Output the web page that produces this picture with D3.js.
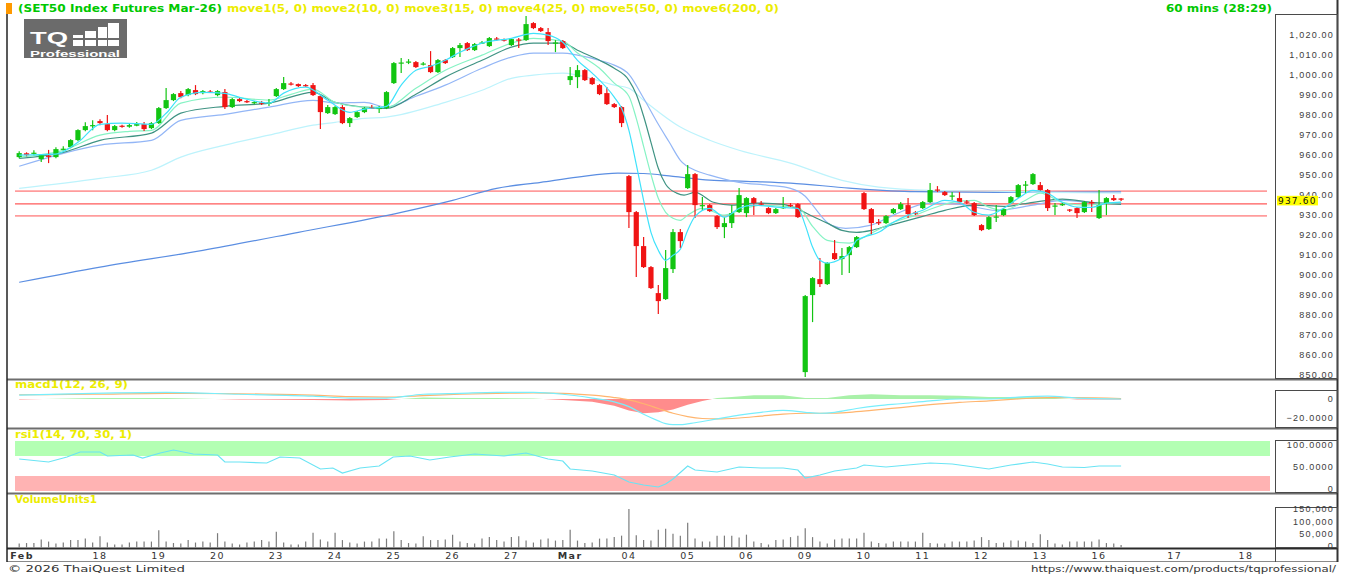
<!DOCTYPE html>
<html>
<head>
<meta charset="utf-8">
<script src="https://cdn.jsdelivr.net/npm/d3@7"></script>
<style>
    body { margin: 0; background: #fff; }
    svg { display: block; font-family: "DejaVu Sans", "Liberation Sans", sans-serif; }
    .hdr { font-weight: bold; font-size: 10px; }
    .axTxt { font-size: 9px; letter-spacing: 1.2px; fill: #3c3c3c; }
    .dateTxt { font-size: 9.5px; letter-spacing: 1.4px; fill: #333; }
    .foot { font-size: 9.5px; fill: #333; }
</style>
</head>
<body>
<svg id="chart" width="1350" height="575"></svg>
<script>
var TQ = TQ || {};

// ---- values ----
// hourly bars: [open, high, low, close]
var candles = [
    [958.6, 961.5, 958.0, 960.6], [960.5, 961.0, 959.0, 959.6], [960.3, 962.0, 959.5, 960.8], [957.6, 960.2, 956.1, 959.6],
    [959.3, 962.2, 955.6, 958.8], [958.6, 963.5, 958.0, 962.6], [962.6, 964.0, 962.0, 962.8], [963.6, 967.5, 963.0, 967.1],
    [967.1, 972.5, 966.5, 972.1], [972.1, 976.0, 971.5, 974.1], [974.5, 977.0, 972.0, 974.6],
    [976.6, 977.5, 974.5, 975.6], [975.1, 979.6, 971.5, 972.1], [972.1, 974.6, 971.5, 974.1], [974.3, 974.8, 973.3, 973.8],
    [973.8, 975.3, 973.3, 974.6], [974.3, 976.1, 974.0, 975.1], [975.1, 976.1, 971.6, 972.6], [973.1, 976.1, 972.6, 975.6],
    [975.6, 983.6, 975.1, 983.1], [983.1, 993.1, 982.6, 987.1], [987.1, 990.6, 986.6, 990.1], [990.6, 991.6, 988.0, 988.6],
    [989.6, 993.1, 989.0, 992.6], [992.1, 994.6, 989.6, 990.1], [990.6, 992.1, 990.0, 991.6], [991.4, 992.1, 990.6, 991.1],
    [989.6, 992.1, 989.0, 991.6], [991.1, 992.6, 982.6, 983.6], [983.6, 988.1, 983.1, 987.6], [987.6, 988.1, 986.1, 986.6],
    [986.6, 987.1, 985.6, 986.1], [985.6, 986.6, 985.1, 986.1], [985.9, 986.6, 984.6, 985.4], [985.4, 987.6, 984.1, 985.9],
    [989.1, 993.1, 988.6, 992.6], [992.6, 998.6, 992.1, 995.6], [995.4, 996.1, 994.4, 994.9], [995.1, 995.4, 993.6, 994.1],
    [994.6, 995.1, 993.6, 994.1], [994.6, 995.6, 989.1, 989.6], [989.1, 989.6, 972.6, 981.1], [980.6, 984.6, 980.1, 983.6],
    [980.1, 984.1, 979.6, 983.6], [983.6, 984.6, 975.1, 975.6], [975.6, 978.6, 973.6, 978.1], [978.6, 981.6, 978.1, 981.1],
    [981.1, 983.6, 980.6, 983.1], [983.4, 984.6, 982.6, 983.1], [982.6, 984.1, 980.6, 983.6], [983.1, 991.6, 982.6, 991.1],
    [995.6, 1006.1, 995.1, 1005.6], [1005.4, 1008.1, 1000.6, 1005.9], [1005.9, 1007.6, 1005.1, 1006.4], [1006.1, 1006.6, 1003.1, 1003.6],
    [1004.9, 1006.1, 1004.4, 1005.4], [1004.6, 1011.6, 1000.6, 1001.1], [1001.1, 1007.6, 1000.6, 1007.1], [1007.1, 1007.6, 1005.1, 1005.6],
    [1008.6, 1013.6, 1008.1, 1013.1], [1013.1, 1015.6, 1008.6, 1014.6], [1015.6, 1016.1, 1011.6, 1012.1], [1012.1, 1015.6, 1011.6, 1015.1],
    [1015.4, 1016.6, 1015.1, 1015.9], [1014.1, 1018.6, 1013.6, 1018.1], [1017.9, 1018.6, 1016.6, 1017.4], [1017.4, 1017.9, 1016.4, 1016.9],
    [1014.6, 1018.1, 1014.1, 1017.6], [1017.4, 1018.1, 1013.1, 1016.9], [1017.1, 1029.1, 1016.6, 1025.1], [1025.6, 1026.1, 1022.6, 1023.1],
    [1023.1, 1023.6, 1021.1, 1021.6], [1021.1, 1023.1, 1014.6, 1016.6], [1015.4, 1017.1, 1011.1, 1015.9], [1016.6, 1017.1, 1012.6, 1013.1],
    [997.1, 1003.6, 994.6, 999.1], [998.6, 1004.6, 993.1, 1002.1], [1002.1, 1002.6, 996.6, 997.1], [998.1, 998.6, 994.6, 995.1],
    [994.6, 995.1, 989.6, 990.1], [990.6, 993.6, 984.6, 985.1], [985.1, 985.6, 983.1, 983.6], [983.6, 984.1, 973.6, 975.6],
    [949.1, 949.6, 923.1, 931.1], [931.1, 931.6, 898.6, 914.1], [914.1, 918.6, 903.1, 903.6], [903.6, 904.1, 892.6, 893.1],
    [890.6, 894.6, 880.1, 886.6], [887.6, 912.1, 887.1, 903.1], [902.6, 922.6, 900.6, 921.1], [921.1, 922.6, 913.1, 916.6],
    [943.1, 954.6, 942.6, 950.1], [950.1, 950.6, 928.1, 934.6], [934.1, 938.6, 931.6, 934.6], [934.6, 935.1, 931.1, 931.6],
    [929.1, 929.6, 922.6, 923.6], [923.6, 928.6, 918.1, 925.6], [925.6, 934.6, 923.1, 930.6], [931.1, 943.1, 930.6, 939.6],
    [930.6, 938.6, 928.6, 938.1], [938.1, 938.6, 929.6, 935.6], [935.4, 936.6, 934.1, 935.1], [933.1, 933.6, 930.1, 930.6],
    [930.6, 933.1, 930.1, 932.6], [933.1, 938.6, 932.6, 933.6], [934.6, 935.6, 933.6, 934.1], [935.1, 935.6, 928.1, 928.6],
    [851.1, 889.6, 848.6, 889.1], [889.6, 898.6, 876.1, 898.1], [897.6, 908.1, 893.6, 895.1], [895.1, 906.1, 894.6, 905.6],
    [910.6, 917.1, 907.1, 907.6], [907.6, 913.1, 899.6, 909.1], [909.6, 914.1, 900.6, 913.6], [913.6, 919.1, 913.1, 918.6],
    [940.6, 941.1, 932.1, 932.6], [932.6, 933.1, 919.6, 925.6], [926.1, 927.6, 924.6, 925.6], [925.6, 929.6, 925.1, 929.1],
    [930.6, 933.1, 930.1, 932.6], [932.6, 936.1, 932.1, 935.1], [934.6, 938.1, 928.1, 930.1], [930.9, 931.6, 929.6, 930.4],
    [933.1, 936.6, 932.6, 936.1], [936.1, 945.6, 935.6, 942.1], [942.4, 944.1, 941.1, 941.9], [941.1, 941.6, 939.1, 939.6],
    [938.9, 941.1, 937.1, 939.4], [938.1, 941.1, 935.6, 936.1], [936.4, 937.1, 935.1, 935.9], [935.6, 936.1, 929.1, 929.6],
    [924.6, 925.1, 921.6, 922.1], [922.6, 929.1, 922.1, 928.6], [928.4, 934.6, 926.1, 928.9], [929.6, 933.1, 929.1, 932.6],
    [935.6, 939.1, 935.1, 938.6], [938.6, 945.1, 938.1, 944.6], [944.4, 946.6, 940.6, 944.9], [945.1, 950.6, 944.6, 950.1],
    [944.6, 946.1, 941.6, 942.1], [942.1, 942.6, 931.6, 933.1], [933.9, 935.6, 929.6, 934.4], [934.6, 935.6, 934.1, 935.1],
    [932.4, 932.6, 931.1, 931.9], [933.1, 933.6, 928.1, 930.6], [931.1, 936.6, 930.6, 936.1], [936.1, 937.1, 931.1, 935.6],
    [928.1, 942.1, 927.6, 934.6], [935.6, 938.6, 929.6, 938.1], [938.1, 939.6, 936.6, 937.1], [937.9, 938.1, 936.6, 937.6]
];

// volume per bar, thousands of contracts
var volumesK = [
    10, 12, 12, 26, 18, 10, 14, 24, 24, 30, 14,
    40, 14, 6, 6, 14, 18, 18, 18,
    64, 18, 12, 10, 24, 14, 18, 14,
    52, 18, 10, 6, 14, 18, 24, 18,
    58, 14, 6, 6, 18, 54, 26, 18,
    54, 24, 14, 10, 18, 18, 30, 30,
    60, 24, 12, 10, 40, 24, 24, 26,
    46, 18, 12, 10, 30, 36, 24, 18,
    36, 40, 22, 14, 26, 30, 22, 24,
    66, 22, 12, 14, 30, 30, 36, 42,
    150, 44, 24, 22, 66, 70, 50, 42,
    94, 30, 18, 18, 42, 42, 42, 34,
    46, 18, 12, 6, 24, 26, 36, 42,
    72, 36, 18, 10, 26, 30, 30, 30,
    54, 18, 12, 10, 18, 18, 18, 18,
    54, 12, 10, 10, 18, 18, 18, 22,
    36, 24, 12, 14, 22, 22, 18, 12,
    48, 24, 10, 6, 18, 18, 18, 18,
    26, 12, 10, 4
];

// moving averages, [bar index, price]
var ma5 = [[0, 959.6], [5, 960.1], [8, 966], [11, 975], [14, 975.6], [18, 975], [20, 980.5], [22, 988.5], [25, 991], [28, 990.5],
    [30, 988.5], [34, 985.6], [36, 990.6], [39, 993.6], [42, 987], [45, 981], [47, 982.6], [50, 984], [52, 994.6], [54, 1002],
    [56, 1004], [58, 1007], [60, 1011], [63, 1015.6], [67, 1018], [70, 1020.5], [72, 1019.6], [74, 1016], [76, 1007], [78, 1000.6],
    [81, 988.6], [82, 983], [83, 972], [84, 955], [85, 937], [86, 921], [87, 912], [88, 907], [89, 909.5], [90, 912.5], [91, 922],
    [92, 929], [94, 933], [96, 928.6], [98, 933], [100, 934.6], [103, 933.6], [106, 933], [107, 924.6], [108, 913.6], [109, 907],
    [110, 905.6], [112, 908], [113, 910.6], [114, 917], [115, 918.6], [117, 921], [119, 926], [121, 929.6], [123, 932], [126, 937],
    [128, 936], [130, 931], [132, 929.6], [134, 933], [136, 938], [138, 942], [140, 940.5], [142, 936], [144, 933.6], [146, 933.5],
    [148, 935.6], [150, 936.1]];
var ma10 = [[0, 958.6], [6, 962], [11, 969.6], [15, 971.5], [18, 972], [22, 985.6], [28, 988.6], [34, 987.1], [37, 990], [40, 992.6],
    [43, 986], [47, 983.6], [50, 983.6], [54, 993], [58, 1002], [63, 1009.6], [67, 1015.6], [70, 1018], [74, 1016.6], [76, 1010.6],
    [79, 1003], [81, 995.6], [83, 989], [84, 978], [85, 964], [86, 950], [87, 938], [88, 931], [89, 928], [90, 927], [91, 929.6],
    [93, 933], [96, 929.6], [98, 932], [101, 934.6], [104, 934], [106, 933.6], [108, 924], [110, 917], [113, 915.6], [116, 920.6],
    [119, 926], [122, 929.6], [124, 932.5], [127, 936], [130, 937], [132, 933.6], [134, 932], [137, 937], [139, 940.6], [142, 936],
    [145, 934.6], [148, 935.5], [150, 936]];
var ma15 = [[0, 958], [6, 961], [11, 967], [18, 970.6], [22, 980.6], [28, 984], [34, 985.6], [40, 991], [43, 986], [47, 983.6],
    [50, 983], [54, 990], [58, 998.6], [63, 1007], [67, 1013.6], [70, 1015.6], [74, 1015.6], [76, 1012], [79, 1007], [81, 1003],
    [83, 997], [84, 990], [85, 979], [86, 966], [87, 953], [88, 945], [89.5, 940.6], [90.5, 939.6], [92, 941], [94.5, 936],
    [97, 934.6], [100.5, 935.6], [104, 935], [106, 932.6], [108, 929], [110, 925.6], [112, 922], [114, 921], [116, 922], [118, 924],
    [120, 926], [123, 929], [126, 932], [130, 934.6], [134, 934], [138, 936], [142, 937.6], [146, 936], [150, 935]];
var ma25 = [[0, 954], [11, 964.6], [18, 967], [22, 977], [28, 980], [34, 983.6], [40, 987], [43, 985.6], [47, 986], [50, 983.6],
    [54, 989], [58, 994.6], [63, 1003], [67, 1008.6], [70, 1010.6], [74, 1010.6], [76, 1009.6], [79, 1007], [81, 1004.6], [83, 1000],
    [85, 988], [87, 975], [88.5, 966], [90, 957], [92, 952], [94, 949.6], [98, 946], [102, 944.5], [105, 943], [107, 939],
    [108, 934.6], [110.5, 924.6], [112.5, 923], [116, 924.6], [119, 929.6], [124, 935.6], [128, 935], [133, 932], [138, 934.6],
    [142, 937], [147, 935.6], [150, 935.6]];
var ma50 = [[0, 943], [11, 948], [18, 952], [22, 958.6], [28, 964.6], [34, 969.6], [40, 974.6], [43, 976], [47, 978], [50, 978.6],
    [58, 986], [63, 992], [67, 998], [70, 999.6], [74, 1000.6], [76, 999.6], [81, 994.6], [83, 993], [85, 987], [90, 973.6],
    [94, 967], [98, 962], [105, 955.6], [112, 947], [117, 943.6], [124, 942], [133, 941.6], [140, 941], [150, 940.6]];
var ma200 = [[0, 896], [11, 903.6], [25, 912], [38, 921], [52, 931], [59, 937], [65, 943], [71, 946], [76, 948.6], [81.5, 950.6],
    [85, 950.4], [89, 949], [94, 947.1], [99, 946.5], [105, 945.6], [113, 943.1], [122, 941.3], [133, 941], [150, 941.2]];

// MACD(12, 26, 9), [bar index, value]
var macdLine = [[0, 4], [10, 6], [20, 7], [30, 5], [40, 3], [45, 1], [50, 1], [55, 5], [60, 6], [65, 7], [70, 7], [74, 5], [78, 1],
    [81, -3], [83, -8], [85, -16], [87, -23], [88, -26], [89, -27], [90, -27], [92, -25], [95, -21], [98, -17], [101, -14],
    [104, -12], [107, -14], [109, -15], [111, -14], [114, -10], [117, -7], [120, -5], [124, -2], [128, 0], [132, 0], [136, 2],
    [140, 3], [144, 1], [150, 0]];
var macdSignal = [[0, 4.5], [10, 5], [20, 6], [30, 5.5], [40, 4], [45, 2.5], [50, 2], [55, 3.5], [60, 5], [65, 6], [70, 6.5],
    [74, 6], [78, 4], [81, 1.5], [83, -1], [85, -5], [87, -10], [89, -15], [91, -18.5], [93, -20.5], [95, -21], [98, -20],
    [101, -18], [104, -16], [107, -15], [110, -15], [113, -14], [116, -12], [120, -9], [124, -6], [128, -3.5], [132, -2],
    [136, 0], [140, 1.5], [144, 1.5], [150, 0.5]];
var macdHist = [[0, -0.5], [10, 1], [20, 1], [30, -0.5], [40, -1], [45, -1.5], [50, -1], [55, 1.5], [60, 1], [65, 1], [70, 0.5],
    [74, -1], [78, -3], [81, -7], [83, -12], [85, -15], [87, -14], [89, -11], [91, -6], [93, -2], [95, 1], [97, 2], [100, 4],
    [104, 4], [107, 1], [110, 1], [113, 4], [116, 5], [120, 4], [124, 4], [128, 3.5], [132, 2], [136, 2], [140, 1.5],
    [144, -0.5], [150, -0.5]];

// RSI(14), [bar index, value]
var rsiLine = [[0, 64], [4, 58], [6.5, 68], [8.3, 78], [11, 78], [12, 70], [15.5, 72], [16.8, 66], [19.2, 76], [21, 82],
    [23.7, 74], [27, 72], [28, 58], [30, 58], [33.7, 56], [35.5, 68], [38.2, 66], [41, 44], [42.7, 46], [44, 36], [46.4, 46],
    [49, 50], [50.9, 68], [53.2, 70], [55.9, 62], [58.6, 68], [62, 74], [66, 70], [69, 76], [72, 64], [74, 60], [75, 44],
    [78, 40], [81, 32], [83, 18], [85, 12], [87, 8], [88, 14], [89, 24], [91, 50], [92, 42], [95, 38], [98, 48], [101, 46],
    [104, 46], [106, 42], [107, 26], [109, 32], [111, 40], [114, 46], [115, 52], [118, 48], [121, 52], [124, 56], [127, 54],
    [130, 48], [132, 44], [135, 52], [138, 58], [140, 54], [142, 48], [145, 47], [147, 50], [150, 50]];

var priceTicks = [850, 860, 870, 880, 890, 900, 910, 920, 930, 940, 950, 960, 970, 980, 990, 1000, 1010, 1020];
var refLevels = [941.6, 935.2, 929.2];
var lastPrice = 937.60;
var dateIdx = [0.4, 11, 19, 27, 35, 43, 51, 59, 67, 75, 83, 91, 99, 107, 115, 123, 131, 139, 147, 157.3, 167];
var dateText = ['Feb', '18', '19', '20', '23', '24', '25', '26', '27', 'Mar', '04', '05', '06', '09', '10', '11', '12', '13', '16', '17', '18'];

TQ.colors = {
    up: '#12c512', down: '#f01414',
    ma5: '#3fe2fb', ma10: '#86f3c4', ma15: '#3f9383', ma25: '#93b6f6', ma50: '#bdf3fc', ma200: '#5b8ee2',
    green: '#00c800', yellow: '#ecec00'
};

TQ.chart = function ( svg ) {
    var self = this,
        _svg = svg,
        _x = d3.scaleLinear().domain( [0, 150] ).range( [19.2, 1121.1] ),
        _yPrice = d3.scaleLinear().domain( [850, 1020] ).range( [374.3, 34.3] ),
        _yMacd = d3.scaleLinear().domain( [-20, 0] ).range( [418, 399] ),
        _yRsi = d3.scaleLinear().domain( [0, 100] ).range( [491, 441] ),
        _yVol = d3.scaleLinear().domain( [0, 150] ).range( [546, 509] ),
        _addClip = function ( id, y, h ) {
            _svg.append( 'clipPath' ).attr( 'id', id )
                .append( 'rect' ).attr( 'x', 8 ).attr( 'y', y ).attr( 'width', 1266 ).attr( 'height', h );
        },
        _hline = function ( y, x1, x2, col, w ) {
            _svg.append( 'line' ).attr( 'x1', x1 ).attr( 'x2', x2 ).attr( 'y1', y ).attr( 'y2', y )
                .attr( 'stroke', col ).attr( 'stroke-width', w );
        },
        _vline = function ( x, y1, y2, col, w ) {
            _svg.append( 'line' ).attr( 'x1', x ).attr( 'x2', x ).attr( 'y1', y1 ).attr( 'y2', y2 )
                .attr( 'stroke', col ).attr( 'stroke-width', w );
        },
        _label = function ( txt, xPos, yPos, col, len ) {
            var t = _svg.append( 'text' ).attr( 'class', 'hdr' ).attr( 'x', xPos ).attr( 'y', yPos )
                .attr( 'fill', col ).text( txt );
            if ( len ) {
                t.attr( 'textLength', len ).attr( 'lengthAdjust', 'spacingAndGlyphs' );
            }
            return t;
        },
        _axisBox = function ( y1, y2 ) {
            _svg.append( 'rect' ).attr( 'x', 1275.5 ).attr( 'y', y1 ).attr( 'width', 62 ).attr( 'height', y2 - y1 )
                .attr( 'fill', 'none' ).attr( 'stroke', '#4a4a4a' ).attr( 'stroke-width', 1 );
        };

    this.drawFrame = function () {
        _addClip( 'clipMain', 15, 363 );
        _addClip( 'clipMacd', 381, 46 );
        _addClip( 'clipRsi', 430, 62 );
        _addClip( 'clipVol', 495, 53 );

        // header
        _svg.append( 'rect' ).attr( 'x', 6 ).attr( 'y', 3 ).attr( 'width', 6 ).attr( 'height', 11 ).attr( 'fill', '#ff9900' );
        _label( '(SET50 Index Futures Mar-26)', 18, 12, TQ.colors.green, 204 );
        _label( 'move1(5, 0) move2(10, 0) move3(15, 0) move4(25, 0) move5(50, 0) move6(200, 0)', 227, 12, TQ.colors.yellow, 552 );
        _label( '60 mins (28:29)', 1166, 12, TQ.colors.green, 106 );
        _label( 'macd1(12, 26, 9)', 15, 388, TQ.colors.yellow, 113 );
        _label( 'rsi1(14, 70, 30, 1)', 15, 438, TQ.colors.yellow, 117 );
        _label( 'VolumeUnits1', 15, 503, TQ.colors.yellow, 82 );

        // panel separators and borders
        _hline( 379.5, 7, 1338, '#6e6e6e', 2 );
        _hline( 428.5, 7, 1338, '#6e6e6e', 2 );
        _hline( 493.5, 7, 1338, '#6e6e6e', 2 );
        _hline( 548.5, 7, 1338, '#2a2a2a', 2 );
        _hline( 561.5, 7, 1338, '#8a8a8a', 1 );
        _vline( 7, 14, 562, '#222', 1.5 );
        _vline( 1337.5, 0, 562, '#333', 2 );
        _axisBox( 14.5, 378.5 );
        _axisBox( 390.5, 427.5 );
        _axisBox( 440.5, 492.5 );
        _axisBox( 507.5, 547.5 );
        _vline( 1275.5, 549, 562, '#4a4a4a', 1 );

        // logo
        var logo = _svg.append( 'g' ).attr( 'id', 'TQ_Logo' );
        logo.append( 'rect' ).attr( 'x', 24 ).attr( 'y', 19 ).attr( 'width', 103 ).attr( 'height', 39 ).attr( 'fill', '#6b6b6b' );
        logo.append( 'text' ).attr( 'x', 30 ).attr( 'y', 44 ).attr( 'fill', '#fff' ).attr( 'font-weight', 'bold' )
            .attr( 'font-size', 17 ).attr( 'textLength', 38 ).attr( 'lengthAdjust', 'spacingAndGlyphs' )
            .attr( 'font-family', 'Liberation Sans, Arial, sans-serif' ).text( 'TQ' );
        [[73, 35, 10], [85, 31, 11], [98, 27, 9], [108, 23, 11]].forEach( function ( b ) {
            logo.append( 'rect' ).attr( 'x', b[0] ).attr( 'y', b[1] ).attr( 'width', b[2] ).attr( 'height', 46 - b[1] ).attr( 'fill', '#fff' );
        } );
        logo.append( 'rect' ).attr( 'x', 72 ).attr( 'y', 38 ).attr( 'width', 49 ).attr( 'height', 2 ).attr( 'fill', '#6b6b6b' );
        logo.append( 'text' ).attr( 'x', 30 ).attr( 'y', 56.5 ).attr( 'fill', '#fff' ).attr( 'font-weight', 'bold' )
            .attr( 'font-size', 9 ).attr( 'textLength', 90 ).attr( 'lengthAdjust', 'spacingAndGlyphs' )
            .attr( 'font-family', 'Liberation Sans, Arial, sans-serif' ).text( 'Professional' );

        // footer
        _svg.append( 'text' ).attr( 'class', 'foot' ).attr( 'x', 8 ).attr( 'y', 572 )
            .attr( 'textLength', 177 ).attr( 'lengthAdjust', 'spacingAndGlyphs' ).text( '\u00a9 2026 ThaiQuest Limited' );
        _svg.append( 'text' ).attr( 'class', 'foot' ).attr( 'x', 1336 ).attr( 'y', 572 ).attr( 'text-anchor', 'end' )
            .attr( 'textLength', 305 ).attr( 'lengthAdjust', 'spacingAndGlyphs' ).text( 'https://www.thaiquest.com/products/tqprofessional/' );
    };

    this.drawPricePanel = function () {
        var holder = _svg.append( 'g' ).attr( 'id', 'PricePanel' ).attr( 'clip-path', 'url(#clipMain)' ),
            maLine = d3.line().x( d => _x( d[0] ) ).y( d => _yPrice( d[1] ) ).curve( d3.curveMonotoneX );

        // support / resistance lines
        holder.selectAll( 'line.ref' ).data( refLevels ).join( 'line' ).attr( 'class', 'ref' )
            .attr( 'x1', 15 ).attr( 'x2', 1267 )
            .attr( 'y1', d => _yPrice( d ) ).attr( 'y2', d => _yPrice( d ) )
            .attr( 'stroke', ( d, i ) => i === 1 ? '#ff5a5a' : '#ff9c9c' )
            .attr( 'stroke-width', ( d, i ) => i === 1 ? 1.2 : 1.6 );

        [['ma200', ma200], ['ma50', ma50], ['ma25', ma25], ['ma15', ma15], ['ma10', ma10]].forEach( function ( m ) {
            holder.append( 'path' ).attr( 'd', maLine( m[1] ) ).attr( 'fill', 'none' )
                .attr( 'stroke', TQ.colors[m[0]] ).attr( 'stroke-width', 1.2 );
        } );

        // candles
        holder.selectAll( 'g.cdl' ).data( candles ).join( 'g' ).attr( 'class', 'cdl' )
            .each( function ( d, i ) {
                var col = d[3] >= d[0] ? TQ.colors.up : TQ.colors.down,
                    cx = _x( i ),
                    top = _yPrice( Math.max( d[0], d[3] ) ),
                    bot = _yPrice( Math.min( d[0], d[3] ) ),
                    g = d3.select( this );
                g.append( 'line' ).attr( 'x1', cx ).attr( 'x2', cx )
                    .attr( 'y1', _yPrice( d[1] ) ).attr( 'y2', _yPrice( d[2] ) )
                    .attr( 'stroke', col ).attr( 'stroke-width', 1.2 );
                g.append( 'rect' ).attr( 'x', cx - 2.6 ).attr( 'y', top ).attr( 'width', 5.2 )
                    .attr( 'height', Math.max( 1.2, bot - top ) ).attr( 'fill', col );
            } );

        holder.append( 'path' ).attr( 'd', maLine( ma5 ) ).attr( 'fill', 'none' )
            .attr( 'stroke', TQ.colors.ma5 ).attr( 'stroke-width', 1.2 );

        // price axis
        var ax = _svg.append( 'g' ).attr( 'transform', 'translate(1334,0)' )
            .call( d3.axisLeft( _yPrice ).tickValues( priceTicks ).tickSize( 0 ).tickPadding( 0 )
                .tickFormat( d3.format( ',.2f' ) ) );
        ax.select( '.domain' ).remove();
        ax.selectAll( 'text' ).attr( 'class', 'axTxt' ).attr( 'font-family', null ).attr( 'font-size', null );

        // last price marker
        var ly = _yPrice( lastPrice ) + 1.5;
        _svg.append( 'rect' ).attr( 'x', 1277 ).attr( 'y', ly - 4.8 ).attr( 'width', 41 ).attr( 'height', 9.6 ).attr( 'fill', '#ffff00' );
        _svg.append( 'text' ).attr( 'class', 'axTxt' ).attr( 'x', 1278 ).attr( 'y', ly ).attr( 'dy', '0.35em' )
            .style( 'fill', '#111' ).text( d3.format( '.2f' )( lastPrice ) );
    };

    this.drawMacd = function () {
        var holder = _svg.append( 'g' ).attr( 'id', 'MacdPanel' ).attr( 'clip-path', 'url(#clipMacd)' ),
            line = d3.line().x( d => _x( d[0] ) ).y( d => _yMacd( d[1] ) ).curve( d3.curveMonotoneX ),
            area = d3.area().x( d => _x( d[0] ) ).y0( _yMacd( 0 ) ).y1( d => _yMacd( d[1] ) );

        holder.append( 'clipPath' ).attr( 'id', 'histPos' ).append( 'rect' )
            .attr( 'x', 8 ).attr( 'y', 381 ).attr( 'width', 1266 ).attr( 'height', _yMacd( 0 ) - 381 );
        holder.append( 'clipPath' ).attr( 'id', 'histNeg' ).append( 'rect' )
            .attr( 'x', 8 ).attr( 'y', _yMacd( 0 ) ).attr( 'width', 1266 ).attr( 'height', 50 );
        holder.append( 'path' ).attr( 'd', area( macdHist ) ).attr( 'fill', '#a9f1a9' ).attr( 'clip-path', 'url(#histPos)' );
        holder.append( 'path' ).attr( 'd', area( macdHist ) ).attr( 'fill', '#ff8c8c' ).attr( 'clip-path', 'url(#histNeg)' );
        holder.append( 'path' ).attr( 'd', line( macdSignal ) ).attr( 'fill', 'none' ).attr( 'stroke', '#ffb56e' ).attr( 'stroke-width', 1.2 );
        holder.append( 'path' ).attr( 'd', line( macdLine ) ).attr( 'fill', 'none' ).attr( 'stroke', '#78eefc' ).attr( 'stroke-width', 1.2 );

        var ax = _svg.append( 'g' ).attr( 'transform', 'translate(1334,0)' )
            .call( d3.axisLeft( _yMacd ).tickValues( [0, -20] ).tickSize( 0 ).tickPadding( 0 )
                .tickFormat( d => d === 0 ? '0' : d3.format( '.4f' )( d ) ) );
        ax.select( '.domain' ).remove();
        ax.selectAll( 'text' ).attr( 'class', 'axTxt' ).attr( 'font-family', null ).attr( 'font-size', null );
    };

    this.drawRsi = function () {
        var holder = _svg.append( 'g' ).attr( 'id', 'RsiPanel' ).attr( 'clip-path', 'url(#clipRsi)' );
        holder.append( 'rect' ).attr( 'x', 15 ).attr( 'y', _yRsi( 100 ) ).attr( 'width', 1255 )
            .attr( 'height', _yRsi( 70 ) - _yRsi( 100 ) ).attr( 'fill', '#b3ffb3' );
        holder.append( 'rect' ).attr( 'x', 15 ).attr( 'y', _yRsi( 30 ) ).attr( 'width', 1255 )
            .attr( 'height', _yRsi( 0 ) - _yRsi( 30 ) ).attr( 'fill', '#ffb3b3' );
        holder.append( 'path' )
            .attr( 'd', d3.line().x( d => _x( d[0] ) ).y( d => _yRsi( d[1] ) )( rsiLine ) )
            .attr( 'fill', 'none' ).attr( 'stroke', '#6ae4f4' ).attr( 'stroke-width', 1.2 );

        var ax = _svg.append( 'g' ).attr( 'transform', 'translate(1334,0)' )
            .call( d3.axisLeft( _yRsi ).tickValues( [100, 50, 0] ).tickSize( 0 ).tickPadding( 0 )
                .tickFormat( d => d === 0 ? '0' : d3.format( '.4f' )( d ) ) );
        ax.select( '.domain' ).remove();
        ax.selectAll( 'text' ).attr( 'class', 'axTxt' ).attr( 'font-family', null ).attr( 'font-size', null )
            .attr( 'dy', d => d === 100 ? '0.7em' : d === 0 ? '0' : '0.35em' );
    };

    this.drawVolume = function () {
        var holder = _svg.append( 'g' ).attr( 'id', 'VolumePanel' ).attr( 'clip-path', 'url(#clipVol)' );
        holder.selectAll( 'line' ).data( volumesK ).join( 'line' )
            .attr( 'x1', ( d, i ) => _x( i ) ).attr( 'x2', ( d, i ) => _x( i ) )
            .attr( 'y1', _yVol( 0 ) + 1.5 ).attr( 'y2', d => _yVol( d ) )
            .attr( 'stroke', '#7b7b7b' ).attr( 'stroke-width', 1.2 );

        var ax = _svg.append( 'g' ).attr( 'transform', 'translate(1334,0)' )
            .call( d3.axisLeft( _yVol ).tickValues( [150, 100, 50, 0] ).tickSize( 0 ).tickPadding( 0 )
                .tickFormat( d => d3.format( ',' )( d * 1000 ) ) );
        ax.select( '.domain' ).remove();
        ax.selectAll( 'text' ).attr( 'class', 'axTxt' ).attr( 'font-family', null ).attr( 'font-size', null );
    };

    this.drawDates = function () {
        _svg.append( 'g' ).attr( 'id', 'DateAxis' )
            .selectAll( 'text' ).data( dateText ).join( 'text' )
            .attr( 'class', 'dateTxt' )
            .attr( 'x', ( d, i ) => _x( dateIdx[i] ) ).attr( 'y', 559 )
            .attr( 'text-anchor', 'middle' )
            .attr( 'font-weight', d => ( d === 'Feb' || d === 'Mar' ) ? 'bold' : null )
            .text( d => d );
    };

    this.draw = function () {
        self.drawFrame();
        self.drawPricePanel();
        self.drawMacd();
        self.drawRsi();
        self.drawVolume();
        self.drawDates();
    };
};

new TQ.chart( d3.select( '#chart' ) ).draw();
</script>
</body>
</html>
